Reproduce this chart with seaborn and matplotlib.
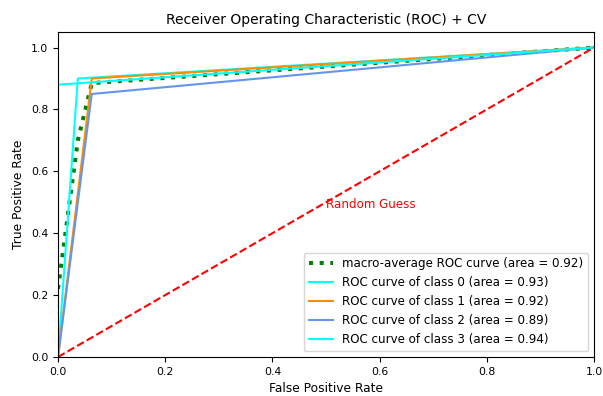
import matplotlib
matplotlib.use("Agg")
import matplotlib.pyplot as plt
import seaborn as sns
import pandas as pd

# ---- data ----
macro_fpr = [0.0, 0.037, 0.063, 1.0]
macro_tpr = [0.22, 0.70, 0.885, 1.0]
macro_auc = 0.92

class_fpr = [
    [0.0, 0.037, 1.0],
    [0.0, 0.063, 1.0],
    [0.0, 0.063, 1.0],
    [0.0, 0.0, 1.0],
]
class_tpr = [
    [0.0, 0.90, 1.0],
    [0.0, 0.90, 1.0],
    [0.0, 0.85, 1.0],
    [0.0, 0.88, 1.0],
]
class_auc = [0.93, 0.92, 0.89, 0.94]
class_colors = ["aqua", "darkorange", "cornflowerblue", "aqua"]

diag = [0.0, 1.0]

TICK_FS = 7.8
LABEL_FS = 8.8
LEGEND_FS = 8.6
TITLE_FS = 10.0
LW = 1.5

fig = plt.figure(figsize=(6.03, 3.96), dpi=100)
ax = fig.add_axes([0.0962, 0.0985, 0.985 - 0.0962, 0.919 - 0.0985])

df = pd.DataFrame({"fpr": macro_fpr, "tpr": macro_tpr})
sns.lineplot(data=df, x="fpr", y="tpr", sort=False, estimator=None, ax=ax,
             color="green", linestyle=":", linewidth=2.9,
             label=f"macro-average ROC curve (area = {macro_auc:0.2f})")

for i in range(len(class_fpr)):
    d = pd.DataFrame({"fpr": class_fpr[i], "tpr": class_tpr[i]})
    sns.lineplot(data=d, x="fpr", y="tpr", sort=False, estimator=None, ax=ax,
                 color=class_colors[i], linewidth=LW,
                 label=f"ROC curve of class {i} (area = {class_auc[i]:0.2f})")

dd = pd.DataFrame({"x": diag, "y": diag})
sns.lineplot(data=dd, x="x", y="y", sort=False, estimator=None, ax=ax,
             color="red", linestyle="--", linewidth=LW, legend=False)
ax.text(0.5, 0.48, "Random Guess", color="red", fontsize=LEGEND_FS)

ax.set_xlim(0.0, 1.0)
ax.set_ylim(0.0, 1.05)
ax.set_xlabel("False Positive Rate", fontsize=LABEL_FS)
ax.set_ylabel("True Positive Rate", fontsize=LABEL_FS)
ax.set_title("Receiver Operating Characteristic (ROC) + CV", fontsize=TITLE_FS)
ax.tick_params(labelsize=TICK_FS)
ax.legend(loc="lower right", fontsize=LEGEND_FS)

fig.savefig("out.png", dpi=100)
